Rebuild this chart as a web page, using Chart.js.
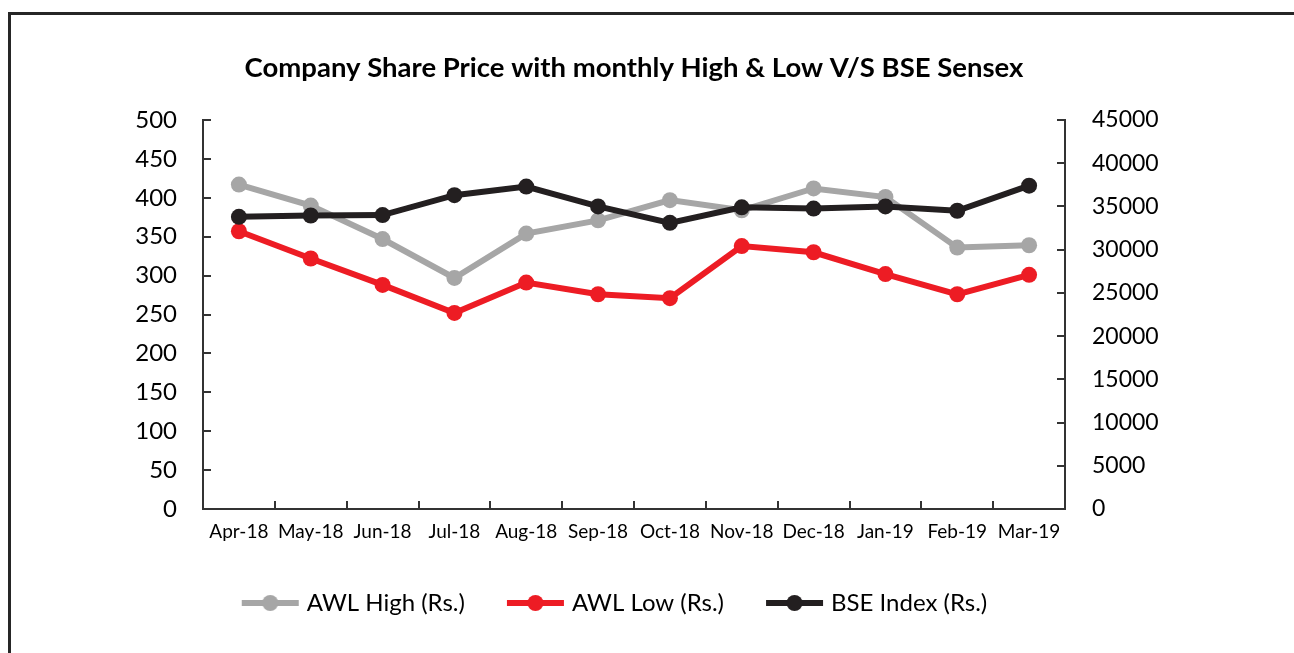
<!DOCTYPE html>
<html>
<head>
<meta charset="utf-8">
<script src="https://cdn.jsdelivr.net/npm/chart.js@4/dist/chart.umd.min.js"></script>
<style>
  html, body { margin: 0; padding: 0; background: #fff; overflow: hidden; }
  #wrap { position: relative; width: 1294px; height: 653px; }
  #frame { position: absolute; left: 8px; top: 12px; width: 2000px; height: 2000px; border: 3px solid #262626; box-sizing: border-box; pointer-events: none; }
  canvas { position: absolute; left: 0; top: 0; }
</style>
</head>
<body>
<div id="wrap">
  <canvas id="c" width="1294" height="653"></canvas>
  <div id="frame"></div>
</div>
<script>
const months = ['Apr-18','May-18','Jun-18','Jul-18','Aug-18','Sep-18','Oct-18','Nov-18','Dec-18','Jan-19','Feb-19','Mar-19'];
const awlHigh = [417, 390, 347, 297, 354, 371, 397, 384, 412, 401, 336, 339];
const awlLow  = [357, 322, 288, 252, 291, 276, 271, 338, 330, 302, 276, 301];
const bseIndex = [33800, 33950, 34000, 36300, 37300, 35000, 33100, 34900, 34750, 35000, 34500, 37400];

const seriesNames = ['AWL High (Rs.)', 'AWL Low (Rs.)', 'BSE Index (Rs.)'];
const colors = ['#A6A6A6', '#ED1C24', '#231F20'];
const FONT = 'Lato, "Open Sans", sans-serif';

function legendIcon(color) {
  const c = document.createElement('canvas');
  c.width = 80; c.height = 20;
  const g = c.getContext('2d');
  g.strokeStyle = color; g.lineWidth = 6; g.lineCap = 'butt';
  g.beginPath(); g.moveTo(19, 10); g.lineTo(76, 10); g.stroke();
  g.fillStyle = color;
  g.beginPath(); g.arc(47.5, 10, 8, 0, Math.PI * 2); g.fill();
  return c;
}

function ds(label, data, color, axis, order) {
  return {
    label, data, yAxisID: axis, order,
    borderColor: color, backgroundColor: color,
    borderWidth: 6, pointRadius: 8, pointHoverRadius: 8,
    pointBackgroundColor: color, pointBorderColor: color, pointBorderWidth: 0,
    tension: 0, pointStyle: 'circle',
    legendIcon: legendIcon(color)
  };
}

new Chart(document.getElementById('c'), {
  type: 'line',
  data: {
    labels: months,
    datasets: [
      ds(seriesNames[0], awlHigh, colors[0], 'y', 3),
      ds(seriesNames[1], awlLow, colors[1], 'y', 2),
      ds(seriesNames[2], bseIndex, colors[2], 'y1', 1)
    ]
  },
  options: {
    responsive: false,
    animation: false,
    layout: { padding: { left: 0, right: 76, top: 0, bottom: 28 } },
    plugins: {
      title: {
        display: true,
        fullSize: false,
        text: 'Company Share Price with monthly High & Low V/S BSE Sensex',
        color: '#000',
        font: { family: FONT, size: 27.5, weight: 'bold' },
        padding: { top: 52, bottom: 35 }
      },
      legend: {
        position: 'bottom',
        labels: {
          color: '#000',
          font: { family: FONT, size: 24 },
          usePointStyle: true,
          pointStyleWidth: 64,
          padding: 31,
          sort: (a, b) => a.datasetIndex - b.datasetIndex,
          generateLabels: (chart) => chart.data.datasets.map((d, i) => ({
            text: d.label, datasetIndex: i, pointStyle: d.legendIcon,
            fillStyle: d.borderColor, strokeStyle: d.borderColor, lineWidth: 0,
            fontColor: '#000', hidden: false
          }))
        }
      },
      tooltip: { enabled: false }
    },
    scales: {
      x: {
        offset: true,
        grid: { display: true, drawOnChartArea: false, offset: true, tickLength: -8, color: '#333', lineWidth: 2 },
        border: { display: true, color: '#333', width: 2 },
        ticks: { color: '#000', font: { family: FONT, size: 19 }, padding: 19, maxRotation: 0, autoSkip: false },
        afterFit: (s) => { s.height = 51; }
      },
      y: {
        position: 'left', min: 0, max: 500,
        grid: { display: true, drawOnChartArea: false, tickLength: -8, color: '#333', lineWidth: 2 },
        border: { display: true, color: '#333', width: 2 },
        ticks: { stepSize: 50, color: '#000', font: { family: FONT, size: 24 }, padding: 34 },
        afterFit: (s) => { s.width = 203; }
      },
      y1: {
        position: 'right', min: 0, max: 45000,
        grid: { display: true, drawOnChartArea: false, tickLength: -8, color: '#333', lineWidth: 2 },
        border: { display: true, color: '#333', width: 2 },
        ticks: { stepSize: 5000, color: '#000', font: { family: FONT, size: 23 }, padding: 35, callback: (v) => String(v) },
        afterFit: (s) => { s.width = 153; }
      }
    }
  }
});
</script>
</body>
</html>
